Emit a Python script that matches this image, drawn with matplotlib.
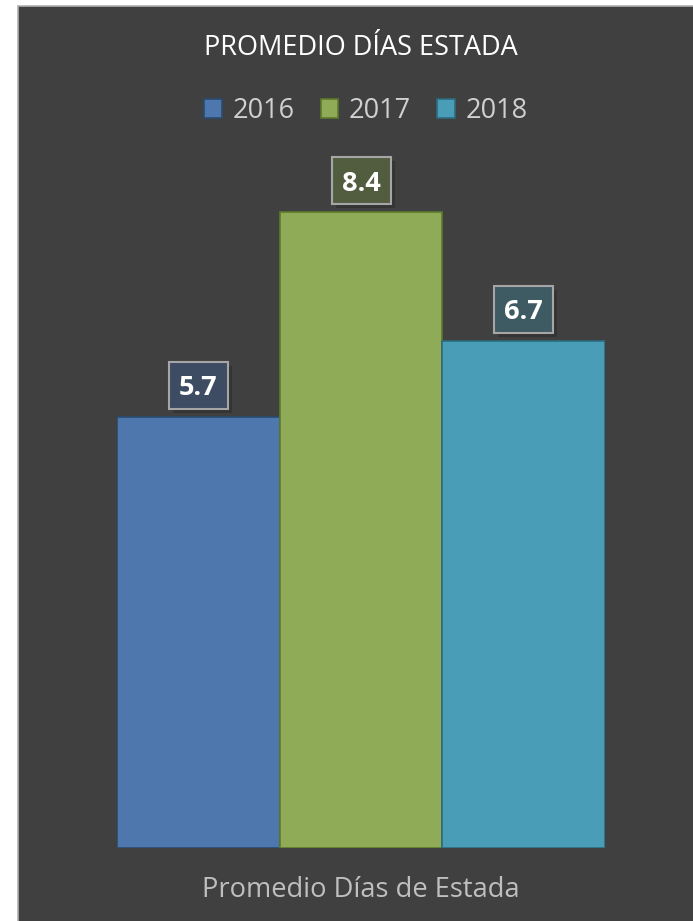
import matplotlib.pyplot as plt
from matplotlib.patches import Rectangle

years = ["2016", "2017", "2018"]
values = [5.7, 8.4, 6.7]
bar_colors = ["#4e78ad", "#8fab58", "#4a9db6"]
edge_colors = ["#2b4a70", "#5c7a2a", "#2c6c80"]
label_fill = ["#3d4c62", "#525d40", "#3e5a63"]

title = "PROMEDIO DÍAS ESTADA"
xlabel = "Promedio Días de Estada"

W, H = 693, 921
plt.rcParams['font.family'] = ['Open Sans', 'DejaVu Sans']

fig = plt.figure(figsize=(W / 100, H / 100), dpi=100)
fig.patch.set_facecolor("white")

# dark chart area with thin light border
fig.patches.append(Rectangle((18 / W, -0.01), 1, 1.01 - 6 / H, transform=fig.transFigure,
                             facecolor="#404040", edgecolor="#b0b0b0", linewidth=1.2, zorder=0))

# plot area in pixels: x 117..605, y 160..848
ax = fig.add_axes([117 / W, (H - 848) / H, 488 / W, 688 / H])
ax.set_zorder(2)
ax.set_facecolor("none")
ymax = 688 / 75.7
ax.set_xlim(-0.5, 2.5)
ax.set_ylim(0, ymax)
ax.axis("off")

x = range(len(values))
ax.bar(x, values, width=1.0, color=bar_colors, edgecolor=edge_colors, linewidth=1.2, zorder=2)

# data labels: boxes sized in pixels, converted to data units
px_x = 3 / 488
px_y = ymax / 688
bw, bh, gap = 59, 47, 8
for i, v in enumerate(values):
    # soft shadow
    ax.add_patch(Rectangle((i - bw / 2 * px_x + 4 * px_x, v + (gap - 4) * px_y), bw * px_x, bh * px_y,
                           facecolor="black", alpha=0.18, edgecolor="none", zorder=3, clip_on=False))
    ax.add_patch(Rectangle((i - bw / 2 * px_x, v + gap * px_y), bw * px_x, bh * px_y,
                           facecolor=label_fill[i], edgecolor="#a6a6a6", linewidth=1.5, zorder=4,
                           clip_on=False))
    ax.text(i, v + (gap + bh / 2) * px_y, f"{v:.1f}", ha="center", va="center_baseline",
            color="white", fontsize=19.5, fontweight="bold", zorder=5, clip_on=False)

fig.text(361 / W, 1 - 48 / H, title, ha="center", va="center", color="white", fontsize=19.5, zorder=3)
fig.text(361 / W, 1 - 890 / H, xlabel, ha="center", va="center", color="#bfbfbf", fontsize=19.6, zorder=3)

handles = [Rectangle((0, 0), 1, 1, facecolor=c, edgecolor=e, linewidth=1.2)
           for c, e in zip(bar_colors, edge_colors)]
leg = fig.legend(handles, years, loc="center", bbox_to_anchor=(366 / W, 1 - 111 / H), ncol=3,
                 frameon=False, fontsize=19.5, handlelength=0.65, handleheight=0.65,
                 handletextpad=0.4, columnspacing=0.95, borderaxespad=0)
leg.set_zorder(3)
for t in leg.get_texts():
    t.set_color("#d0d0d0")

fig.savefig("out.png", dpi=100, facecolor=fig.get_facecolor())
